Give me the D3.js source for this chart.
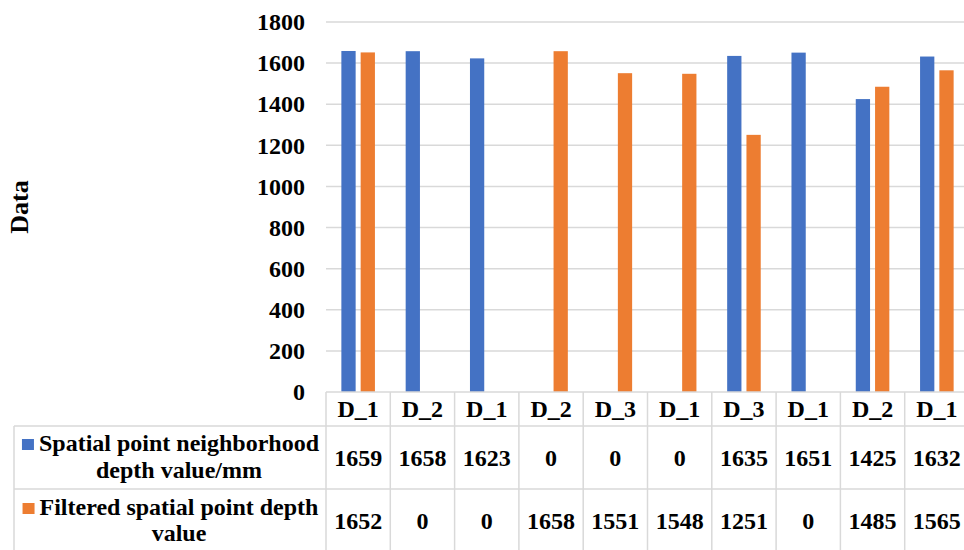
<!DOCTYPE html>
<html>
<head>
<meta charset="utf-8">
<script src="https://cdn.jsdelivr.net/npm/d3@7"></script>
<style>
  html, body { margin: 0; padding: 0; background: #fff; }
  svg { display: block; }
  svg text { font-family: "Liberation Serif", "Tinos", "Times New Roman", "DejaVu Serif", serif; font-weight: bold; }
</style>
</head>
<body>
<svg id="chart" width="964" height="550"></svg>
<script>
// Categories along the x axis (also the header row of the data table)
const categories = ["D_1", "D_2", "D_1", "D_2", "D_3", "D_1", "D_3", "D_1", "D_2", "D_1"];
// Series names and values
const seriesNames = ["Spatial point neighborhood depth value/mm", "Filtered spatial point depth value"];
const seriesLines = [["Spatial point neighborhood", "depth value/mm"], ["Filtered spatial point depth", "value"]];
const neighborhoodDepth = [1659, 1658, 1623, 0, 0, 0, 1635, 1651, 1425, 1632];
const filteredDepth = [1652, 0, 0, 1658, 1551, 1548, 1251, 0, 1485, 1565];
const seriesColors = ["#4472C4", "#ED7D31"];
const yTicks = [0, 200, 400, 600, 800, 1000, 1200, 1400, 1600, 1800];

const series = [neighborhoodDepth, filteredDepth];

const svg = d3.select("#chart");
const fontSize = 24;
const gridColor = "#d9d9d9";

// Plot area geometry
const plotLeft = 326, plotRight = 969, plotTop = 22, plotBottom = 392;
const tableLeft = 14, rowHeader = 426, rowOne = 489, tableBottom = 560;

const x = d3.scaleBand()
  .domain(d3.range(categories.length))
  .range([plotLeft, plotRight])
  .paddingInner(0).paddingOuter(0);
const bw = x.bandwidth();

const xSub = d3.scaleBand()
  .domain(d3.range(series.length))
  .range([bw * 0.239, bw * 0.761])
  .paddingInner(0.26).paddingOuter(0);

const y = d3.scaleLinear().domain([0, 1800]).range([plotBottom, plotTop]);

// Horizontal gridlines
svg.append("g")
  .selectAll("line")
  .data(yTicks.filter(t => t > 0))
  .join("line")
  .attr("x1", plotLeft).attr("x2", plotRight)
  .attr("y1", d => y(d)).attr("y2", d => y(d))
  .attr("stroke", gridColor).attr("stroke-width", 1.5);

// Y axis labels (no axis line)
const yAxis = d3.axisLeft(y).tickValues(yTicks).tickSize(0).tickPadding(0).tickFormat(d3.format("d"));
const yG = svg.append("g").attr("transform", "translate(305,0)").call(yAxis);
yG.attr("font-family", null).attr("font-size", null);
yG.select(".domain").remove();
yG.selectAll("text")
  .attr("font-size", fontSize)
  .attr("fill", "#000");

// Y axis title
svg.append("text")
  .attr("transform", "translate(28,207) rotate(-90)")
  .attr("text-anchor", "middle")
  .attr("font-size", 26)
  .text("Data");

// Bars
series.forEach((vals, si) => {
  svg.append("g")
    .selectAll("rect")
    .data(vals)
    .join("rect")
    .attr("x", (d, i) => x(i) + xSub(si))
    .attr("width", xSub.bandwidth())
    .attr("y", d => y(d))
    .attr("height", d => y(0) - y(d))
    .attr("fill", seriesColors[si]);
});

// Data table grid
const tg = svg.append("g").attr("stroke", gridColor).attr("stroke-width", 1.5);
tg.append("line").attr("x1", plotLeft).attr("x2", plotRight).attr("y1", plotBottom).attr("y2", plotBottom);
[rowHeader, rowOne].forEach(yy => {
  tg.append("line").attr("x1", tableLeft).attr("x2", plotRight).attr("y1", yy).attr("y2", yy);
});
tg.append("line").attr("x1", tableLeft).attr("x2", tableLeft).attr("y1", rowHeader).attr("y2", tableBottom);
d3.range(categories.length + 1).forEach(i => {
  const xx = plotLeft + i * bw;
  tg.append("line").attr("x1", xx).attr("x2", xx).attr("y1", plotBottom).attr("y2", tableBottom);
});

// Category header row
svg.append("g")
  .selectAll("text")
  .data(categories)
  .join("text")
  .attr("x", (d, i) => x(i) + bw / 2)
  .attr("y", 417)
  .attr("text-anchor", "middle")
  .attr("font-size", fontSize)
  .text(d => d);

// Value rows
const rowBaselines = [466, 529];
series.forEach((vals, si) => {
  svg.append("g")
    .selectAll("text")
    .data(vals)
    .join("text")
    .attr("x", (d, i) => x(i) + bw / 2)
    .attr("y", rowBaselines[si])
    .attr("text-anchor", "middle")
    .attr("font-size", fontSize)
    .text(d => d);
});

// Legend cells with keys
const legendLineBaselines = [[451, 478], [515, 541]];
const legendCenter = 179;
seriesLines.forEach((lines, si) => {
  const g = svg.append("g");
  lines.forEach((ln, li) => {
    const t = g.append("text")
      .attr("x", legendCenter)
      .attr("y", legendLineBaselines[si][li])
      .attr("text-anchor", "middle")
      .attr("font-size", fontSize)
      .text(ln);
    if (li === 0) {
      const w = t.node().getComputedTextLength();
      g.append("rect")
        .attr("x", legendCenter - w / 2 - 17)
        .attr("y", legendLineBaselines[si][li] - 12)
        .attr("width", 12).attr("height", 11)
        .attr("fill", seriesColors[si]);
    }
  });
});
</script>
</body>
</html>
